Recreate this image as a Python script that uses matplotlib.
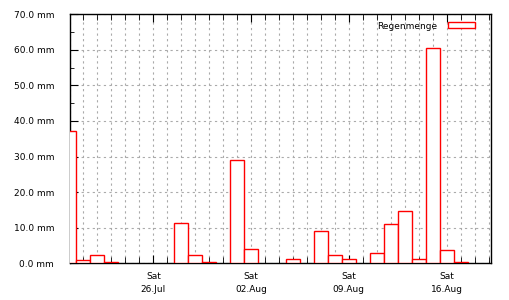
import numpy as np
import matplotlib
matplotlib.use("Agg")
import matplotlib.pyplot as plt
import matplotlib.dates as mdates
import matplotlib.ticker as mticker

# daily rain totals, starting Sun 20 Jul 2014
start = np.datetime64("2014-07-20")
rain_mm = [37.2, 0.8, 2.2, 0.3, 0, 0, 0, 0, 11.3, 2.2,
           0.3, 0, 29.0, 4.0, 0, 0, 1.1, 0, 9.1, 2.2,
           1.2, 0, 2.8, 11.0, 14.7, 1.2, 60.6, 3.7, 0.3, 0]
days = start + np.arange(len(rain_mm)).astype("timedelta64[D]")
series_label = "Regenmenge"

plt.rcParams["font.family"] = "DejaVu Sans"
plt.rcParams["font.size"] = 6.5

fig = plt.figure(figsize=(5.1, 3.0), dpi=100)
ax = fig.add_axes([0.1363, 0.1223, 0.962 - 0.1363, 0.953 - 0.1223])

x = mdates.date2num(days.astype("datetime64[s]").astype(object))
h = np.array(rain_mm)
keep = h > 0
ax.bar(x[keep], h[keep], width=1.0, align="center", facecolor="white",
       edgecolor="red", linewidth=1.0, label=series_label, zorder=3)

ax.set_xlim(x[0], x[0] + 30.15)
ax.set_ylim(0, 70)

ax.yaxis.set_major_locator(mticker.MultipleLocator(10))
ax.yaxis.set_minor_locator(mticker.MultipleLocator(5))
ax.yaxis.set_major_formatter(mticker.FuncFormatter(lambda v, p: f"{v:.1f} mm"))

ax.xaxis.set_major_locator(mdates.WeekdayLocator(byweekday=mdates.SA))
ax.xaxis.set_minor_locator(mdates.DayLocator())
ax.xaxis.set_major_formatter(mdates.DateFormatter("Sat\n%d.%b"))

ax.tick_params(axis="both", which="both", direction="in", colors="black")
ax.tick_params(axis="y", which="major", length=6, pad=11)
ax.tick_params(axis="y", which="minor", length=3)
ax.tick_params(axis="x", which="major", length=6, pad=6, top=True)
ax.tick_params(axis="x", which="minor", length=4, top=True)
for lab in ax.get_xticklabels():
    lab.set_linespacing(1.6)

grid_style = dict(color="#aaaaaa", linestyle=(0, (2, 3)), linewidth=0.8)
ax.grid(True, which="major", axis="y", **grid_style)
ax.grid(True, which="both", axis="x", **grid_style)
ax.set_axisbelow(True)
for s in ax.spines.values():
    s.set_color("black")
    s.set_linewidth(1.0)

ax.legend(loc="upper right", bbox_to_anchor=(1 - 10 / 421, 1 - 2 / 249), frameon=False,
          handlelength=3.0, handleheight=0.6, markerfirst=False,
          borderaxespad=0.2, handletextpad=1.2)

fig.savefig("out.png", dpi=100)
